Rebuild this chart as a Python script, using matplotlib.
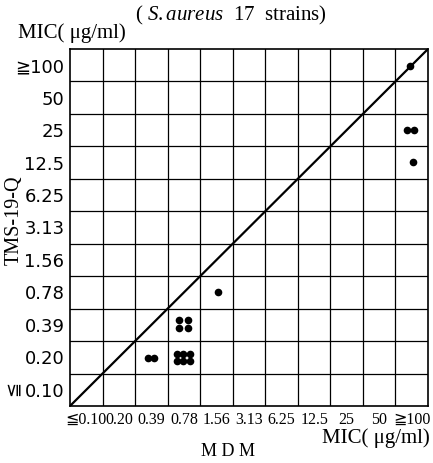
import matplotlib
matplotlib.use("Agg")
import matplotlib.pyplot as plt

# MIC categories (same on both axes), lowest first
x_labels = ["≦0.10", "0.20", "0.39", "0.78", "1.56", "3.13", "6.25", "12.5", "25", "50", "≧100"]
y_labels = ["0.10", "0.20", "0.39", "0.78", "1.56", "3.13", "6.25", "12.5", "25", "50", "≧100"]

# strains: position in cell units (MDM category, TMS-19-Q category), offsets inside cell
mdm = [10.46, 10.37, 10.58, 10.55, 4.55,
       3.35, 3.63, 3.35, 3.63,
       2.40, 2.58,
       3.29, 3.48, 3.69, 3.29, 3.48, 3.69]
tms = [10.48, 8.50, 8.50, 7.52, 3.51,
       2.65, 2.65, 2.40, 2.40,
       1.48, 1.48,
       1.60, 1.60, 1.60, 1.39, 1.39, 1.39]

serif = ["Liberation Serif", "DejaVu Sans"]
sans = ["DejaVu Sans"]
plt.rcParams["font.family"] = serif
plt.rcParams["mathtext.fontset"] = "custom"
plt.rcParams["mathtext.it"] = "Liberation Serif:italic"
plt.rcParams["mathtext.rm"] = "Liberation Serif"

fig = plt.figure(figsize=(4.33, 4.63), dpi=100)
ax = fig.add_axes([70 / 433, 57 / 463, 358 / 433, 357 / 463])

n = len(x_labels)
ax.set_xlim(0, n)
ax.set_ylim(0, n)

for i in range(1, n):
    ax.axvline(i, color="black", lw=0.9)
    ax.axhline(i, color="black", lw=0.9)
for s in ax.spines.values():
    s.set_linewidth(1.2)

ax.plot([0, n], [0, n], color="black", lw=1.6)
ax.plot(mdm, tms, "o", color="black", markersize=5.5, markeredgewidth=0)

centers = [i + 0.5 for i in range(n)]
ax.set_xticks(centers)
ax.set_xticklabels(x_labels, fontsize=11.5, family=serif)
ax.set_yticks(centers)
ax.set_yticklabels(y_labels, fontsize=13, family=sans)
ax.tick_params(axis="x", length=0, pad=4)
ax.tick_params(axis="y", length=0, pad=4)

# rotated "≦" in front of the lowest y label
fig.text(13 / 433, 1 - 388 / 463, "≦", rotation=90, fontsize=13,
         ha="center", va="center", family=sans)

fig.text(231 / 433, 1 - 15 / 463, r"( $\mathit{S.aureus}$  17  strains)", fontsize=15,
         ha="center", va="center")
fig.text(18 / 433, 1 - 33 / 463, "MIC( μg/ml)", fontsize=15, ha="left", va="center")
fig.text(14 / 433, 1 - 220 / 463, "TMS-19-Q", fontsize=14.5, rotation=90,
         ha="center", va="center")
fig.text(430 / 433, 1 - 438 / 463, "MIC( μg/ml)", fontsize=15, ha="right", va="center")
fig.text(228 / 433, 1 - 452 / 463, "M D M", fontsize=13, ha="center", va="center")

fig.savefig("out.png", dpi=100)
